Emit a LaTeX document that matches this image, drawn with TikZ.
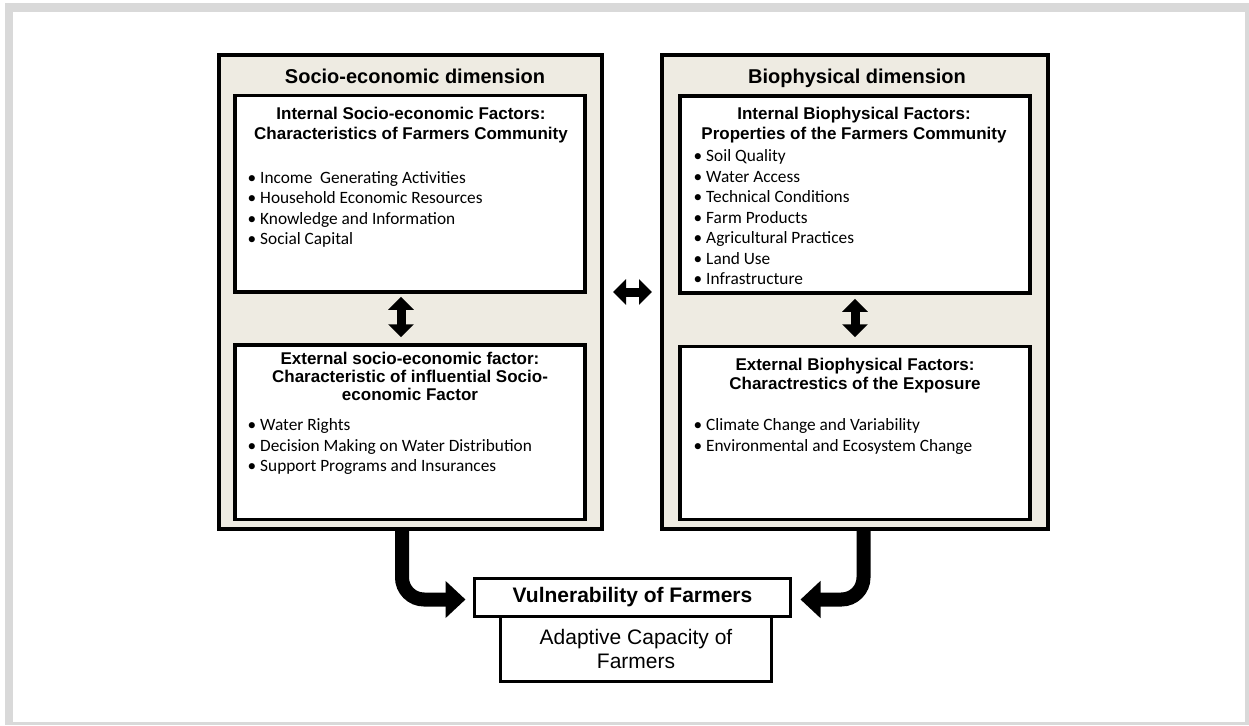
\documentclass[tikz,border=0pt]{standalone}
\usepackage{fontspec}
\setmainfont{Liberation Sans}
\newfontfamily\itemfont{Carlito}
\usetikzlibrary{arrows.meta}
\definecolor{dimfill}{RGB}{238,235,226}
\definecolor{framegray}{RGB}{217,217,217}

\begin{document}
\begin{tikzpicture}
                [x=1pt, y=-1pt,
                dimbox/.style={draw=black, fill=dimfill, line width=4pt, minimum height=474pt, inner sep=0pt},
                factorbox/.style={draw=black, fill=white, line width=3.5pt, minimum width=350pt, inner sep=0pt},
                dimtitle/.style={font=\bfseries\fontsize{20}{24}\selectfont, anchor=base, inner sep=0pt},
                factortitle/.style={font=\bfseries\fontsize{17}{19.5}\selectfont, align=center, anchor=north, inner sep=0pt},
                itemlist/.style={font=\itemfont\fontsize{17.3}{20.5}\selectfont, align=left, anchor=north west, inner sep=0pt},
                resultbox/.style={draw=black, fill=white, line width=3pt, inner sep=0pt},
                dblarrow/.style={line width=9pt, {Triangle[length=13pt,width=25pt]}-{Triangle[length=13pt,width=25pt]}},
                bentarrow/.style={line width=14pt, rounded corners=22pt, -{Triangle[length=20pt,width=36pt]}}]

                % page frame
                \useasboundingbox (0,0) rectangle (1249,725);
                \fill[framegray] (5,3) rectangle (1249,725);
                \fill[white] (13,12) rectangle (1245,722);

                % the two dimensions
                \node[dimbox, minimum width=383pt] (soc) at (410.5,292) {};
                \node[dimbox, minimum width=386pt] (bio) at (854.5,292) {};
                \node[dimtitle] (soctitle) at (415,83) {Socio-economic dimension};
                \node[dimtitle] (biotitle) at (857,83) {Biophysical dimension};

                % factor boxes
                \node[factorbox, minimum height=196.5pt] (intsoc) at (410,193.75) {};
                \node[factorbox, minimum height=174.5pt] (extsoc) at (410,432.25) {};
                \node[factorbox, minimum height=197pt] (intbio) at (855,194.5) {};
                \node[factorbox, minimum height=173pt] (extbio) at (855,433) {};

                \node[factortitle] (intsoctitle) at (411,107) {Internal Socio-economic Factors:\\Characteristics of Farmers Community};
                \node[itemlist] (intsocitems) at (247.5,171) {• Income~ Generating Activities\\• Household Economic Resources\\• Knowledge and Information\\• Social Capital};

                \node[factortitle, font=\bfseries\fontsize{17}{18}\selectfont] (extsoctitle) at (410,351.5) {External socio-economic factor:\\Characteristic of influential Socio-\\economic Factor};
                \node[itemlist] (extsocitems) at (247.5,418.5) {• Water Rights\\• Decision Making on Water Distribution\\• Support Programs and Insurances};

                \node[factortitle] (intbiotitle) at (854,107) {Internal Biophysical Factors:\\Properties of the Farmers Community};
                \node[itemlist] (intbioitems) at (693.5,149.5) {• Soil Quality\\• Water Access\\• Technical Conditions\\• Farm Products\\• Agricultural Practices\\• Land Use\\• Infrastructure};

                \node[factortitle, font=\bfseries\fontsize{17}{18.5}\selectfont] (extbiotitle) at (855,358) {External Biophysical Factors:\\Charactrestics of the Exposure};
                \node[itemlist] (extbioitems) at (693.5,418.5) {• Climate Change and Variability\\• Environmental and Ecosystem Change};

                % result boxes
                \node[resultbox, minimum width=271pt, minimum height=65pt, align=center, font=\fontsize{21}{24}\selectfont] (adapt) at (636,649) {Adaptive Capacity of\\Farmers};
                \node[resultbox, minimum width=316pt, minimum height=38pt, font=\bfseries\fontsize{21}{24}\selectfont] (vuln) at (632.5,597.5) {Vulnerability of Farmers};

                % arrows
                \draw[dblarrow, shorten <=3pt, shorten >=6pt] ([xshift=-9pt]intsoc.south) -- ([xshift=-9pt]extsoc.north);
                \draw[dblarrow, shorten <=4pt, shorten >=7.5pt] (intbio.south) -- (extbio.north);
                \draw[dblarrow, shorten <=9pt, shorten >=7.5pt] (soc.east) -- (bio.west);
                \draw[bentarrow, shorten >=7.5pt] ([xshift=-8.5pt]soc.south) |- ([yshift=-2pt]vuln.west);
                \draw[bentarrow, shorten >=8.5pt] ([xshift=9pt]bio.south) |- ([yshift=-2pt]vuln.east);

            \end{tikzpicture}
\end{document}
